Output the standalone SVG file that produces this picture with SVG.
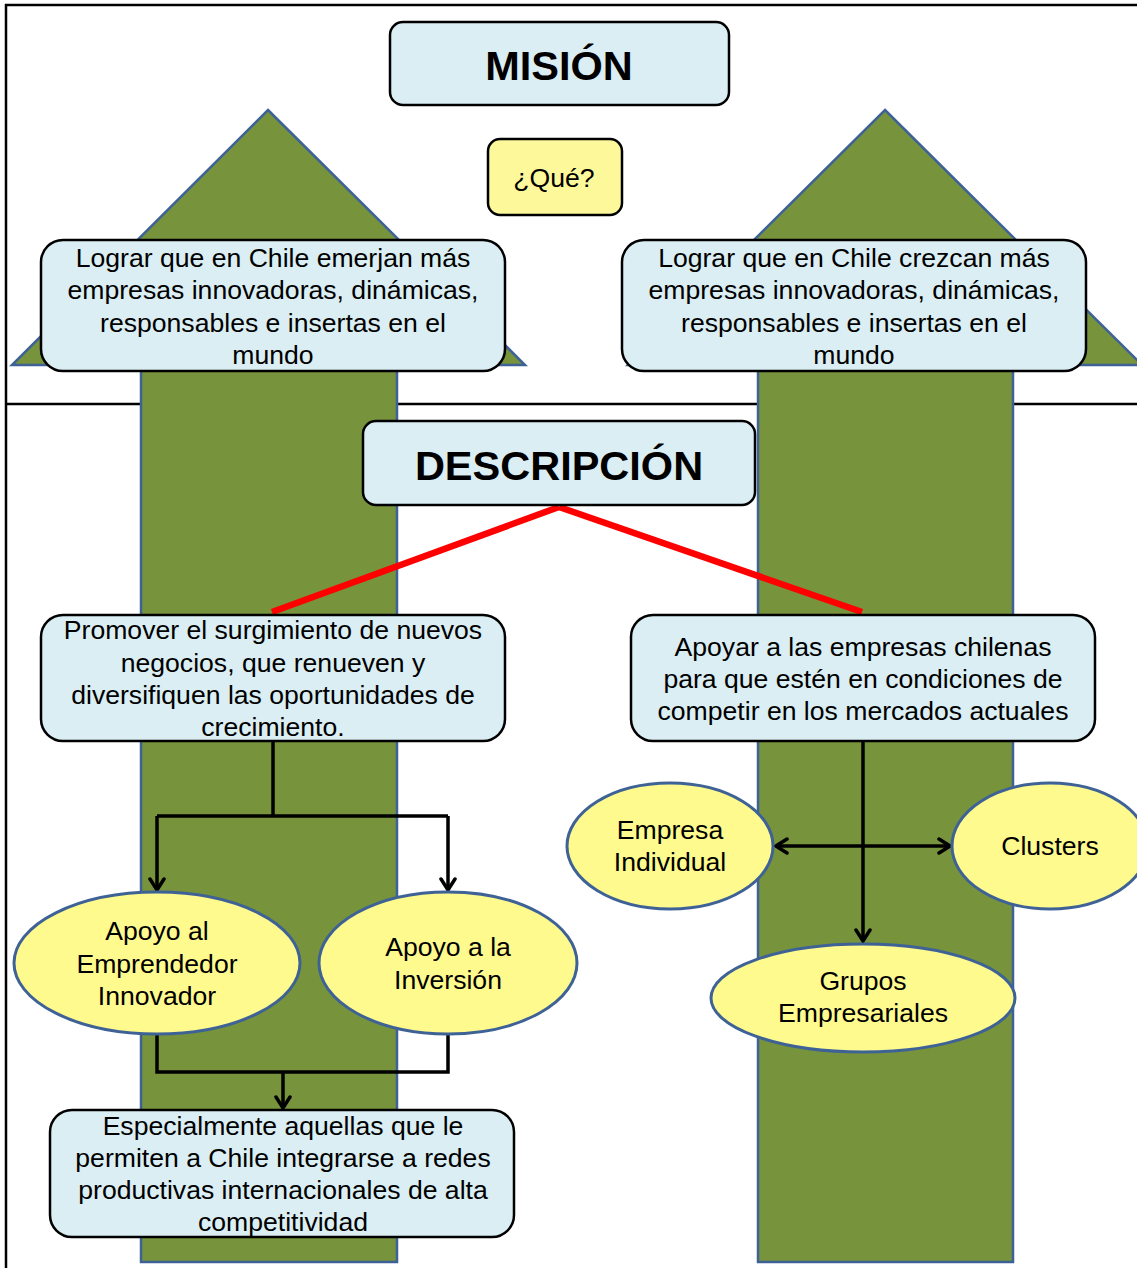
<svg xmlns="http://www.w3.org/2000/svg" width="1137" height="1268" viewBox="0 0 1137 1268">
  <defs>
    <style>
      .frame { fill: none; stroke: #000; stroke-width: 2.5; }
      .bigarrow { fill: #77933C; stroke: #3E6296; stroke-width: 2.5; stroke-linejoin: miter; }
      .box { fill: #DAEEF3; stroke: #000; stroke-width: 2.5; }
      .qbox { fill: #FDF99B; stroke: #000; stroke-width: 2.5; }
      .oval { fill: #FEFA8E; stroke: #3E6296; stroke-width: 3; }
      .t { font-family: "Liberation Sans", Arial, sans-serif; font-size: 26.6px; fill: #000; text-anchor: middle; }
      .title { font-family: "Liberation Sans", Arial, sans-serif; font-size: 41.5px; font-weight: bold; fill: #000; text-anchor: middle; }
      .link { fill: none; stroke: #000; stroke-width: 3.5; }
      .red { fill: none; stroke: #FF0000; stroke-width: 6.5; }
    </style>
    <marker id="head" viewBox="0 0 18 18" refX="15" refY="9" markerWidth="18" markerHeight="18" markerUnits="userSpaceOnUse" orient="auto">
      <path d="M4 2 L15 9 L4 16" fill="none" stroke="#000" stroke-width="3.5" stroke-linecap="round" stroke-linejoin="miter"/>
    </marker>
    <marker id="headStart" viewBox="0 0 18 18" refX="15" refY="9" markerWidth="18" markerHeight="18" markerUnits="userSpaceOnUse" orient="auto-start-reverse">
      <path d="M4 2 L15 9 L4 16" fill="none" stroke="#000" stroke-width="3.5" stroke-linecap="round" stroke-linejoin="miter"/>
    </marker>
  </defs>

  <rect width="1137" height="1268" fill="#fff"/>

  <!-- outer frame and divider -->
  <g id="frame">
    <path class="frame" d="M6 1268 V5 H1140"/>
    <line class="frame" x1="6" y1="404" x2="1140" y2="404"/>
  </g>

  <!-- large upward arrows in the background -->
  <g id="arrow-left">
    <polygon class="bigarrow" points="268,110 525,365 397,365 397,1262 141,1262 141,365 12,365"/>
  </g>
  <g id="arrow-right">
    <polygon class="bigarrow" points="885,110 1142,365 1013,365 1013,1262 758,1262 758,365 628,365"/>
  </g>

  <!-- connectors -->
  <g id="connectors">
    <line class="red" x1="559" y1="507" x2="272" y2="612"/>
    <line class="red" x1="559" y1="507" x2="862" y2="612"/>

    <polyline class="link" points="273,741 273,816"/>
    <polyline class="link" points="157,816 448,816"/>
    <polyline class="link" points="157,816 157,890" marker-end="url(#head)"/>
    <polyline class="link" points="448,816 448,890" marker-end="url(#head)"/>

    <polyline class="link" points="157,1035 157,1072 448,1072 448,1035"/>
    <polyline class="link" points="283,1072 283,1108" marker-end="url(#head)"/>

    <polyline class="link" points="863,741 863,941" marker-end="url(#head)"/>
    <line class="link" x1="776" y1="846" x2="950" y2="846" marker-start="url(#headStart)" marker-end="url(#head)"/>
  </g>

  <g id="mision">
    <rect class="box" x="390" y="22" width="339" height="83" rx="13"/>
    <text class="title" x="559" y="80">MISIÓN</text>
  </g>

  <g id="que">
    <rect class="qbox" x="488" y="139" width="134" height="76" rx="12"/>
    <text class="t" x="554" y="187">¿Qué?</text>
  </g>

  <g id="mision-left">
    <rect class="box" x="41" y="240" width="464" height="131" rx="22"/>
    <text class="t" x="273" y="267">Lograr que en Chile emerjan más</text>
    <text class="t" x="273" y="299">empresas innovadoras, dinámicas,</text>
    <text class="t" x="273" y="332">responsables e insertas en el</text>
    <text class="t" x="273" y="364">mundo</text>
  </g>

  <g id="mision-right">
    <rect class="box" x="622" y="240" width="464" height="131" rx="22"/>
    <text class="t" x="854" y="267">Lograr que en Chile crezcan más</text>
    <text class="t" x="854" y="299">empresas innovadoras, dinámicas,</text>
    <text class="t" x="854" y="332">responsables e insertas en el</text>
    <text class="t" x="854" y="364">mundo</text>
  </g>

  <g id="descripcion">
    <rect class="box" x="363" y="421" width="392" height="84" rx="13"/>
    <text class="title" x="559" y="480">DESCRIPCIÓN</text>
  </g>

  <g id="promover">
    <rect class="box" x="41" y="615" width="464" height="126" rx="22"/>
    <text class="t" x="273" y="639">Promover el surgimiento de nuevos</text>
    <text class="t" x="273" y="672">negocios, que renueven y</text>
    <text class="t" x="273" y="704">diversifiquen las oportunidades de</text>
    <text class="t" x="273" y="736">crecimiento.</text>
  </g>

  <g id="apoyar">
    <rect class="box" x="631" y="615" width="464" height="126" rx="22"/>
    <text class="t" x="863" y="656">Apoyar a las empresas chilenas</text>
    <text class="t" x="863" y="688">para que estén en condiciones de</text>
    <text class="t" x="863" y="720">competir en los mercados actuales</text>
  </g>

  <g id="emprendedor">
    <ellipse class="oval" cx="157" cy="963" rx="143" ry="71"/>
    <text class="t" x="157" y="940">Apoyo al</text>
    <text class="t" x="157" y="973">Emprendedor</text>
    <text class="t" x="157" y="1005">Innovador</text>
  </g>

  <g id="inversion">
    <ellipse class="oval" cx="448" cy="963" rx="129" ry="71"/>
    <text class="t" x="448" y="956">Apoyo a la</text>
    <text class="t" x="448" y="989">Inversión</text>
  </g>

  <g id="especialmente">
    <rect class="box" x="50" y="1110" width="464" height="127" rx="22"/>
    <text class="t" x="283" y="1135">Especialmente aquellas que le</text>
    <text class="t" x="283" y="1167">permiten a Chile integrarse a redes</text>
    <text class="t" x="283" y="1199">productivas internacionales de alta</text>
    <text class="t" x="283" y="1231">competitividad</text>
  </g>

  <g id="empresa-individual">
    <ellipse class="oval" cx="670" cy="846" rx="103" ry="63"/>
    <text class="t" x="670" y="839">Empresa</text>
    <text class="t" x="670" y="871">Individual</text>
  </g>

  <g id="clusters">
    <ellipse class="oval" cx="1050" cy="846" rx="98" ry="63"/>
    <text class="t" x="1050" y="855">Clusters</text>
  </g>

  <g id="grupos">
    <ellipse class="oval" cx="863" cy="998" rx="152" ry="54"/>
    <text class="t" x="863" y="990">Grupos</text>
    <text class="t" x="863" y="1022">Empresariales</text>
  </g>
</svg>
